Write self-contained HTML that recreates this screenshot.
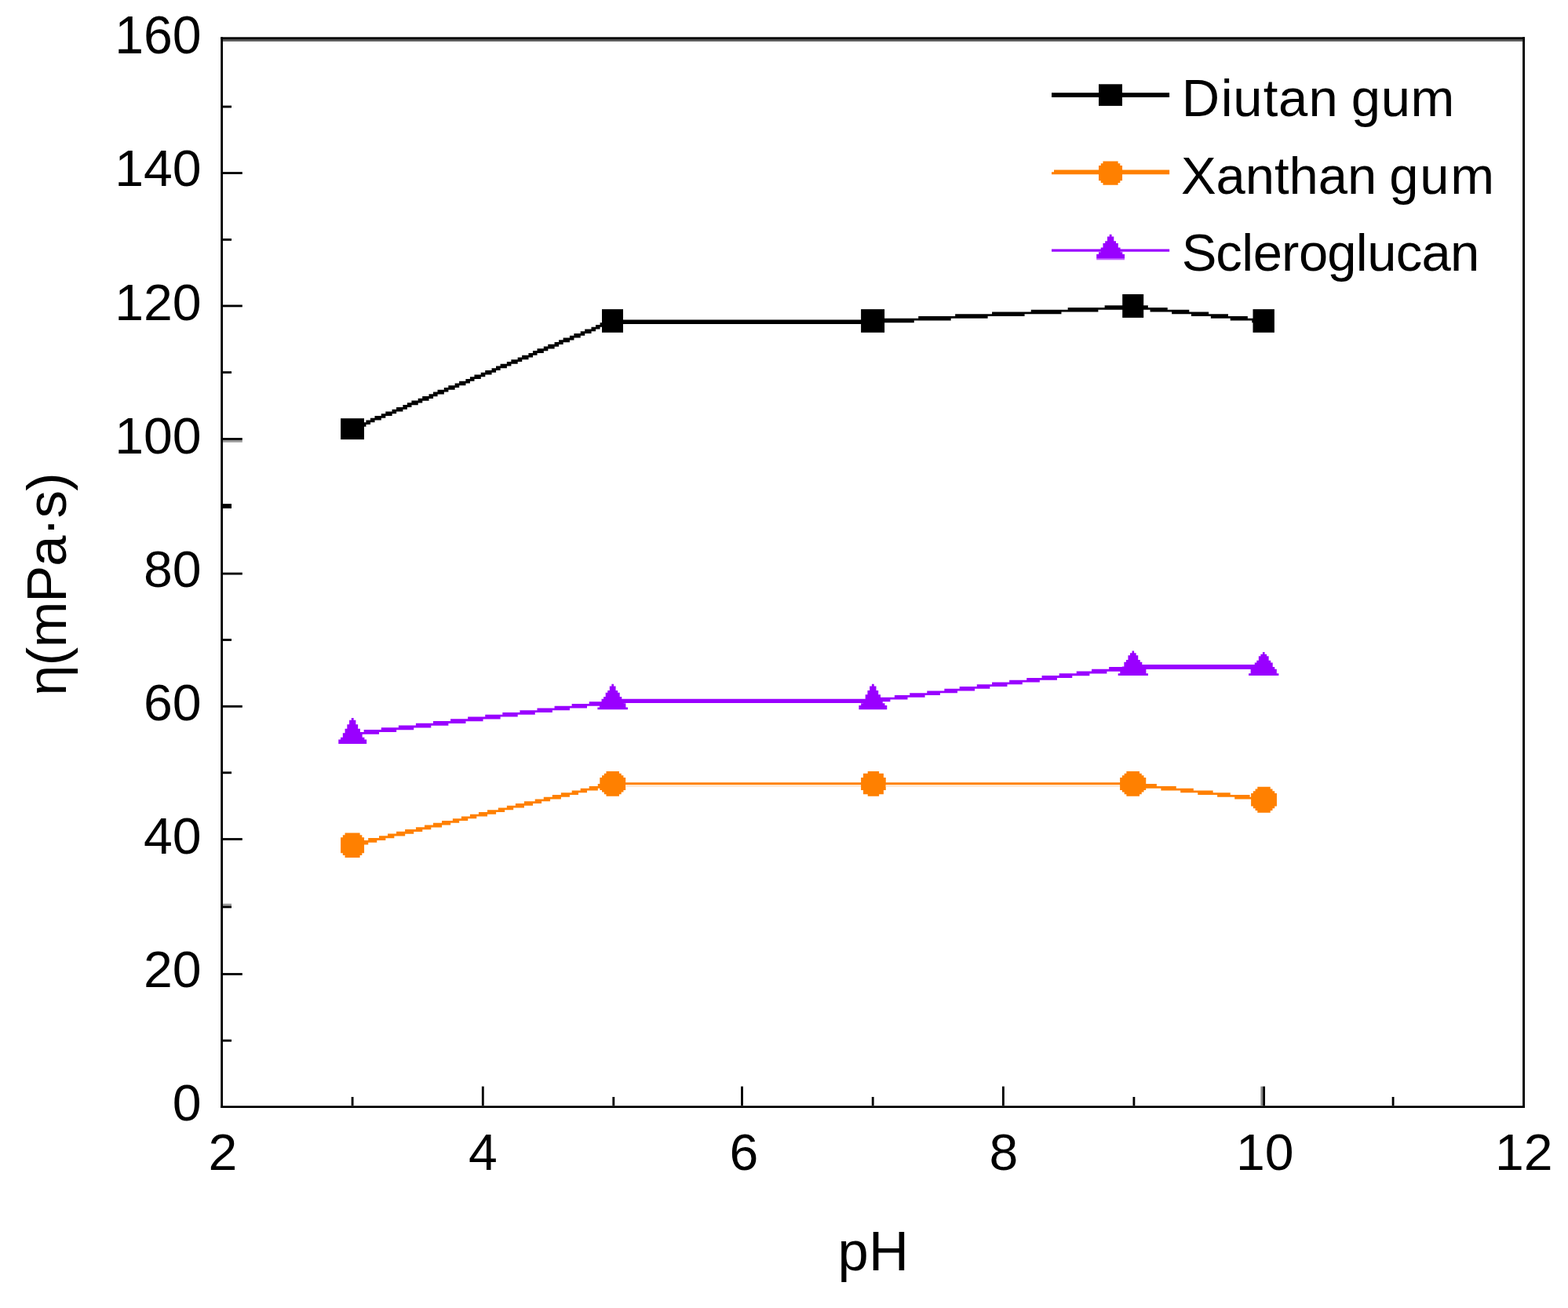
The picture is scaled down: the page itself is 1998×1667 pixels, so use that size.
<!DOCTYPE html>
<html lang="en"><head><meta charset="utf-8"><title>Viscosity vs pH</title>
<style>html,body{margin:0;padding:0;background:#fff;}body{width:1998px;height:1667px;overflow:hidden;}svg{display:block;}text{font-family:"Liberation Sans", sans-serif;fill:#000;}</style>
</head><body>
<svg width="1998" height="1667" viewBox="0 0 1998 1667">
<rect x="0" y="0" width="1998" height="1667" fill="#fff"/>
<g id="frame">
<rect x="281.2" y="47.3" width="2.8" height="1364.7" fill="#000"/>
<rect x="1940.1" y="47.3" width="2.9" height="1364.7" fill="#000"/>
<rect x="281.2" y="47.3" width="1661.8" height="2.7" fill="#000"/>
<rect x="284" y="50" width="1656.1" height="2.8" fill="#555"/>
<rect x="281.2" y="1409.3" width="1661.8" height="2.7" fill="#000"/>
</g>
<g id="yticks">
<rect x="284" y="134.58" width="11" height="2.84" fill="#000"/>
<rect x="284" y="219.13" width="24.8" height="2.84" fill="#000"/>
<rect x="284" y="303.98" width="11" height="2.84" fill="#000"/>
<rect x="284" y="388.48" width="24.8" height="2.84" fill="#000"/>
<rect x="284" y="473.18" width="11" height="2.84" fill="#000"/>
<rect x="284" y="558.08" width="24.8" height="2.84" fill="#000"/>
<rect x="284" y="560.92" width="24.8" height="2.8" fill="#999"/>
<rect x="284" y="642.1" width="11" height="5.8" fill="#000"/>
<rect x="284" y="729.68" width="24.8" height="2.84" fill="#000"/>
<rect x="284" y="814.08" width="11" height="2.84" fill="#000"/>
<rect x="284" y="898.88" width="24.8" height="2.84" fill="#000"/>
<rect x="284" y="983.38" width="11" height="2.84" fill="#000"/>
<rect x="284" y="1068.08" width="24.8" height="2.84" fill="#000"/>
<rect x="284" y="1151.68" width="11" height="2.8" fill="#999"/>
<rect x="284" y="1154.48" width="11" height="2.84" fill="#000"/>
<rect x="284" y="1240.08" width="24.8" height="2.84" fill="#000"/>
<rect x="284" y="1324.78" width="11" height="2.84" fill="#000"/>
</g>
<g id="xticks">
<rect x="447.68" y="1398" width="2.84" height="11.3" fill="#000"/>
<rect x="613.88" y="1384.6" width="2.84" height="24.7" fill="#000"/>
<rect x="780.38" y="1398" width="2.84" height="11.3" fill="#000"/>
<rect x="944.08" y="1384.6" width="2.84" height="24.7" fill="#000"/>
<rect x="1110.78" y="1398" width="2.84" height="11.3" fill="#000"/>
<rect x="1276.98" y="1384.6" width="2.84" height="24.7" fill="#000"/>
<rect x="1443.48" y="1398" width="2.84" height="11.3" fill="#000"/>
<rect x="1606.38" y="1384.6" width="2.8" height="24.7" fill="#888"/>
<rect x="1609.18" y="1384.6" width="2.84" height="24.7" fill="#000"/>
<rect x="1773.68" y="1398" width="2.84" height="11.3" fill="#000"/>
</g>
<g id="ylabels" text-anchor="end">
<text x="256.6" y="1427.9" font-size="64.6" textLength="36.8" lengthAdjust="spacingAndGlyphs">0</text>
<text x="256.6" y="1257.8" font-size="64.6" textLength="73.6" lengthAdjust="spacingAndGlyphs">20</text>
<text x="256.6" y="1087.8" font-size="64.6" textLength="73.6" lengthAdjust="spacingAndGlyphs">40</text>
<text x="256.6" y="917.7" font-size="64.6" textLength="73.6" lengthAdjust="spacingAndGlyphs">60</text>
<text x="256.6" y="747.6" font-size="64.6" textLength="73.6" lengthAdjust="spacingAndGlyphs">80</text>
<text x="256.6" y="577.5" font-size="64.6" textLength="110.4" lengthAdjust="spacingAndGlyphs">100</text>
<text x="256.6" y="407.5" font-size="64.6" textLength="110.4" lengthAdjust="spacingAndGlyphs">120</text>
<text x="256.6" y="237.4" font-size="64.6" textLength="110.4" lengthAdjust="spacingAndGlyphs">140</text>
<text x="256.6" y="68.2" font-size="67.6" textLength="110.4" lengthAdjust="spacingAndGlyphs">160</text>
</g>
<g id="xlabels" font-size="64.6" text-anchor="middle">
<text x="284.0" y="1491.3" textLength="36.8" lengthAdjust="spacingAndGlyphs">2</text>
<text x="615.5" y="1491.3" textLength="36.8" lengthAdjust="spacingAndGlyphs">4</text>
<text x="948.0" y="1491.3" textLength="36.8" lengthAdjust="spacingAndGlyphs">6</text>
<text x="1278.8" y="1491.3" textLength="36.8" lengthAdjust="spacingAndGlyphs">8</text>
<text x="1611.8" y="1491.3" textLength="73.6" lengthAdjust="spacingAndGlyphs">10</text>
<text x="1941.8" y="1491.3" textLength="73.6" lengthAdjust="spacingAndGlyphs">12</text>
</g>
<text id="xtitle" x="1067.56 1107.04" y="1619.3" font-size="70.5">pH</text>
<text id="ytitle" transform="translate(83.7,900) rotate(-90)" x="13.29 51.72 74.73 132.29 178.38 216.81 239.82 274.36" y="0" font-size="70.5">η(mPa·s)</text>
<g id="series-diutan">
<path fill="#000" d="M778.32 405.72H781.14V408.54H778.32ZM772.8 408.48H783.9V411.3H772.8ZM764.52 411.24H778.38V414.06H764.52ZM759 414H772.86V416.82H759ZM753.48 416.76H764.58V419.58H753.48ZM745.2 419.52H759.06V422.34H745.2ZM739.68 422.28H753.54V425.1H739.68ZM731.4 425.04H745.26V427.86H731.4ZM725.88 427.8H739.74V430.62H725.88ZM717.6 430.56H731.46V433.38H717.6ZM712.08 433.32H725.94V436.14H712.08ZM706.56 436.08H717.66V438.9H706.56ZM698.28 438.84H712.14V441.66H698.28ZM692.76 441.6H706.62V444.42H692.76ZM684.48 444.36H698.34V447.18H684.48ZM678.96 447.12H692.82V449.94H678.96ZM673.44 449.88H684.54V452.7H673.44ZM665.16 452.64H679.02V455.46H665.16ZM659.64 455.4H673.5V458.22H659.64ZM651.36 458.16H665.22V460.98H651.36ZM645.84 460.92H659.7V463.74H645.84ZM637.56 463.68H651.42V466.5H637.56ZM632.04 466.44H645.9V469.26H632.04ZM626.52 469.2H637.62V472.02H626.52ZM618.24 471.96H632.1V474.78H618.24ZM612.72 474.72H626.58V477.54H612.72ZM604.44 477.48H618.3V480.3H604.44ZM598.92 480.24H612.78V483.06H598.92ZM593.4 483H604.5V485.82H593.4ZM585.12 485.76H598.98V488.58H585.12ZM579.6 488.52H593.46V491.34H579.6ZM571.32 491.28H585.18V494.1H571.32ZM565.8 494.04H579.66V496.86H565.8ZM557.52 496.8H571.38V499.62H557.52ZM552 499.56H565.86V502.38H552ZM546.48 502.32H557.58V505.14H546.48ZM538.2 505.08H552.06V507.9H538.2ZM532.68 507.84H546.54V510.66H532.68ZM524.4 510.6H538.26V513.42H524.4ZM518.88 513.36H532.74V516.18H518.88ZM513.36 516.12H524.46V518.94H513.36ZM505.08 518.88H518.94V521.7H505.08ZM499.56 521.64H513.42V524.46H499.56ZM491.28 524.4H505.14V527.22H491.28ZM485.76 527.16H499.62V529.98H485.76ZM477.48 529.92H491.34V532.74H477.48ZM471.96 532.68H485.82V535.5H471.96ZM466.44 535.44H477.54V538.26H466.44ZM458.16 538.2H472.02V541.02H458.16ZM452.64 540.96H466.5V543.78H452.64ZM447.12 543.72H458.22V546.54H447.12ZM447.12 546.48H452.7V549.3H447.12ZM780 407.5H1112.06V413.06H780ZM1407.6 389.16H1446.3V391.98H1407.6ZM1360.68 391.92H1443.54V394.74H1360.68ZM1313.76 394.68H1399.38V397.5H1313.76ZM1264.08 397.44H1352.46V400.26H1264.08ZM1217.16 400.2H1305.54V403.02H1217.16ZM1170.24 402.96H1258.62V405.78H1170.24ZM1123.32 405.72H1211.7V408.54H1123.32ZM1109.52 408.48H1164.78V411.3H1109.52ZM1112.28 411.24H1115.1V414.06H1112.28ZM1440.72 389.16H1462.86V391.98H1440.72ZM1443.48 391.92H1487.7V394.74H1443.48ZM1465.56 394.68H1515.3V397.5H1465.56ZM1493.16 397.44H1540.14V400.26H1493.16ZM1518 400.2H1564.98V403.02H1518ZM1542.84 402.96H1589.82V405.78H1542.84ZM1567.68 405.72H1611.9V408.54H1567.68ZM1595.28 408.48H1611.9V411.3H1595.28Z"/>
<rect x="434.1" y="533.2" width="29.9" height="26.9" fill="#000"/>
<rect x="767" y="394.1" width="27" height="29.7" fill="#000"/>
<rect x="1097.1" y="394.1" width="30" height="29.7" fill="#000"/>
<rect x="1430.2" y="375" width="27" height="29.9" fill="#000"/>
<rect x="1596.5" y="394.1" width="27.4" height="29.7" fill="#000"/>
</g>
<g id="series-scleroglucan">
<path fill="#9900ff" d="M772.8 891.48H783.9V894.3H772.8ZM750.72 894.24H783.9V897.06H750.72ZM728.64 897H770.1V899.82H728.64ZM706.56 899.76H748.02V902.58H706.56ZM684.48 902.52H725.94V905.34H684.48ZM662.4 905.28H703.86V908.1H662.4ZM640.32 908.04H681.78V910.86H640.32ZM618.24 910.8H659.7V913.62H618.24ZM596.16 913.56H637.62V916.38H596.16ZM574.08 916.32H615.54V919.14H574.08ZM552 919.08H593.46V921.9H552ZM529.92 921.84H571.38V924.66H529.92ZM507.84 924.6H549.3V927.42H507.84ZM485.76 927.36H527.22V930.18H485.76ZM463.68 930.12H505.14V932.94H463.68ZM447.12 932.88H483.06V935.7H447.12ZM447.12 935.64H460.98V938.46H447.12ZM780 890.7H1112.06V896.06H780ZM1435.2 847.32H1446.3V850.14H1435.2ZM1413.12 850.08H1446.3V852.9H1413.12ZM1391.04 852.84H1429.74V855.66H1391.04ZM1371.72 855.6H1410.42V858.42H1371.72ZM1349.64 858.36H1388.34V861.18H1349.64ZM1327.56 861.12H1366.26V863.94H1327.56ZM1308.24 863.88H1346.94V866.7H1308.24ZM1286.16 866.64H1324.86V869.46H1286.16ZM1264.08 869.4H1302.78V872.22H1264.08ZM1244.76 872.16H1283.46V874.98H1244.76ZM1222.68 874.92H1261.38V877.74H1222.68ZM1203.36 877.68H1242.06V880.5H1203.36ZM1181.28 880.44H1219.98V883.26H1181.28ZM1159.2 883.2H1197.9V886.02H1159.2ZM1139.88 885.96H1178.58V888.78H1139.88ZM1117.8 888.72H1156.5V891.54H1117.8ZM1109.52 891.48H1134.42V894.3H1109.52ZM1112.28 894.24H1115.1V897.06H1112.28ZM1443 847H1610.06V852.96H1443ZM447.82 915H450.64V917.8H447.82ZM445.07 917.74H453.39V920.54H445.07ZM445.07 920.48H453.39V923.28H445.07ZM442.32 923.23H456.14V926.03H442.32ZM442.32 925.97H456.14V928.77H442.32ZM439.56 928.71H458.9V931.51H439.56ZM439.56 931.45H458.9V934.25H439.56ZM436.81 934.19H461.65V936.99H436.81ZM436.81 936.93H461.65V939.73H436.81ZM434.05 939.67H464.41V942.48H434.05ZM431.3 942.42H467.16V945.22H431.3ZM431.3 945.16H467.16V947.96H431.3ZM779.37 871.8H781.99V874.57H779.37ZM776.8 874.51H784.56V877.28H776.8ZM776.8 877.22H784.56V879.98H776.8ZM774.23 879.92H787.13V882.69H774.23ZM771.67 882.63H789.69V885.4H771.67ZM771.67 885.34H789.69V888.11H771.67ZM769.1 888.05H792.26V890.82H769.1ZM766.53 890.76H794.83V893.53H766.53ZM766.53 893.47H794.83V896.23H766.53ZM763.97 896.17H797.39V898.94H763.97ZM763.97 898.88H797.39V901.65H763.97ZM761.4 901.59H799.96V904.36H761.4ZM1110.92 871.8H1113.74V874.57H1110.92ZM1108.17 874.51H1116.49V877.28H1108.17ZM1108.17 877.22H1116.49V879.98H1108.17ZM1105.42 879.92H1119.24V882.69H1105.42ZM1105.42 882.63H1119.24V885.4H1105.42ZM1102.66 885.34H1122V888.11H1102.66ZM1102.66 888.05H1122V890.82H1102.66ZM1099.91 890.76H1124.75V893.53H1099.91ZM1099.91 893.47H1124.75V896.23H1099.91ZM1097.15 896.17H1127.51V898.94H1097.15ZM1094.4 898.88H1130.26V901.65H1094.4ZM1094.4 901.59H1130.26V904.36H1094.4ZM1442.53 829.5H1445.13V832.42H1442.53ZM1439.98 832.36H1447.68V835.29H1439.98ZM1437.43 835.23H1450.23V838.15H1437.43ZM1437.43 838.09H1450.23V841.01H1437.43ZM1434.89 840.95H1452.77V843.88H1434.89ZM1432.34 843.82H1455.32V846.74H1432.34ZM1432.34 846.68H1455.32V849.61H1432.34ZM1429.79 849.55H1457.87V852.47H1429.79ZM1427.25 852.41H1460.41V855.33H1427.25ZM1427.25 855.27H1460.41V858.2H1427.25ZM1424.7 858.14H1462.96V861.06H1424.7ZM1608.93 830.9H1611.53V833.7H1608.93ZM1606.38 833.64H1614.08V836.43H1606.38ZM1603.83 836.37H1616.63V839.17H1603.83ZM1603.83 839.11H1616.63V841.91H1603.83ZM1601.29 841.85H1619.17V844.64H1601.29ZM1598.74 844.58H1621.72V847.38H1598.74ZM1598.74 847.32H1621.72V850.11H1598.74ZM1596.19 850.05H1624.27V852.85H1596.19ZM1593.65 852.79H1626.81V855.59H1593.65ZM1593.65 855.53H1626.81V858.32H1593.65ZM1591.1 858.26H1629.36V861.06H1591.1Z"/>
</g>
<g id="series-xanthan">
<path fill="#ff8000" d="M775.56 996.36H783.9V999.18H775.56ZM761.76 999.12H783.9V1001.94H761.76ZM750.72 1001.88H772.86V1004.7H750.72ZM739.68 1004.64H761.82V1007.46H739.68ZM728.64 1007.4H748.02V1010.22H728.64ZM714.84 1010.16H736.98V1012.98H714.84ZM703.8 1012.92H725.94V1015.74H703.8ZM692.76 1015.68H714.9V1018.5H692.76ZM681.72 1018.44H701.1V1021.26H681.72ZM667.92 1021.2H690.06V1024.02H667.92ZM656.88 1023.96H679.02V1026.78H656.88ZM645.84 1026.72H667.98V1029.54H645.84ZM634.8 1029.48H654.18V1032.3H634.8ZM621 1032.24H643.14V1035.06H621ZM609.96 1035H632.1V1037.82H609.96ZM598.92 1037.76H621.06V1040.58H598.92ZM587.88 1040.52H607.26V1043.34H587.88ZM576.84 1043.28H596.22V1046.1H576.84ZM563.04 1046.04H585.18V1048.86H563.04ZM552 1048.8H574.14V1051.62H552ZM540.96 1051.56H563.1V1054.38H540.96ZM529.92 1054.32H549.3V1057.14H529.92ZM516.12 1057.08H538.26V1059.9H516.12ZM505.08 1059.84H527.22V1062.66H505.08ZM494.04 1062.6H516.18V1065.42H494.04ZM483 1065.36H502.38V1068.18H483ZM469.2 1068.12H491.34V1070.94H469.2ZM458.16 1070.88H480.3V1073.7H458.16ZM447.12 1073.64H469.26V1076.46H447.12ZM447.12 1076.4H455.46V1079.22H447.12ZM780 997.3H1444.06V1000.16H780ZM1440.72 996.36H1451.82V999.18H1440.72ZM1440.72 999.12H1473.9V1001.94H1440.72ZM1457.28 1001.88H1498.74V1004.7H1457.28ZM1479.36 1004.64H1520.82V1007.46H1479.36ZM1504.2 1007.4H1545.66V1010.22H1504.2ZM1526.28 1010.16H1567.74V1012.98H1526.28ZM1551.12 1012.92H1592.58V1015.74H1551.12ZM1573.2 1015.68H1611.9V1018.5H1573.2ZM1595.28 1018.44H1611.9V1021.26H1595.28ZM439.54 1061.4H458.62V1064.32H439.54ZM436.82 1064.26H461.34V1067.19H436.82ZM434.1 1067.13H464.06V1070.05H434.1ZM434.1 1069.99H464.06V1072.91H434.1ZM434.1 1072.85H464.06V1075.78H434.1ZM434.1 1075.72H464.06V1078.64H434.1ZM434.1 1078.58H464.06V1081.51H434.1ZM434.1 1081.45H464.06V1084.37H434.1ZM434.1 1084.31H464.06V1087.23H434.1ZM436.82 1087.17H461.34V1090.1H436.82ZM439.54 1090.04H458.62V1092.96H439.54ZM772.5 983H788.96V985.71H772.5ZM769.77 985.65H791.69V988.36H769.77ZM767.03 988.3H794.43V991.01H767.03ZM764.3 990.95H797.16V993.66H764.3ZM764.3 993.6H797.16V996.31H764.3ZM764.3 996.25H797.16V998.96H764.3ZM764.3 998.9H797.16V1001.61H764.3ZM764.3 1001.55H797.16V1004.26H764.3ZM764.3 1004.2H797.16V1006.91H764.3ZM767.03 1006.85H794.43V1009.56H767.03ZM769.77 1009.5H791.69V1012.21H769.77ZM772.5 1012.15H788.96V1014.86H772.5ZM1105.72 983H1120.14V985.71H1105.72ZM1099.97 985.65H1125.89V988.36H1099.97ZM1099.97 988.3H1125.89V991.01H1099.97ZM1097.1 990.95H1128.76V993.66H1097.1ZM1097.1 993.6H1128.76V996.31H1097.1ZM1097.1 996.25H1128.76V998.96H1097.1ZM1097.1 998.9H1128.76V1001.61H1097.1ZM1097.1 1001.55H1128.76V1004.26H1097.1ZM1097.1 1004.2H1128.76V1006.91H1097.1ZM1099.97 1006.85H1125.89V1009.56H1099.97ZM1099.97 1009.5H1125.89V1012.21H1099.97ZM1105.72 1012.15H1120.14V1014.86H1105.72ZM1435.38 983H1451.98V985.71H1435.38ZM1432.62 985.65H1454.74V988.36H1432.62ZM1429.86 988.3H1457.5V991.01H1429.86ZM1427.1 990.95H1460.26V993.66H1427.1ZM1427.1 993.6H1460.26V996.31H1427.1ZM1427.1 996.25H1460.26V998.96H1427.1ZM1427.1 998.9H1460.26V1001.61H1427.1ZM1427.1 1001.55H1460.26V1004.26H1427.1ZM1427.1 1004.2H1460.26V1006.91H1427.1ZM1429.86 1006.85H1457.5V1009.56H1429.86ZM1432.62 1009.5H1454.74V1012.21H1432.62ZM1435.38 1012.15H1451.98V1014.86H1435.38ZM1602.3 1002.7H1618.76V1005.52H1602.3ZM1599.57 1005.46H1621.49V1008.28H1599.57ZM1596.83 1008.22H1624.23V1011.03H1596.83ZM1594.1 1010.98H1626.96V1013.79H1594.1ZM1594.1 1013.73H1626.96V1016.55H1594.1ZM1594.1 1016.49H1626.96V1019.31H1594.1ZM1594.1 1019.25H1626.96V1022.07H1594.1ZM1594.1 1022.01H1626.96V1024.83H1594.1ZM1594.1 1024.77H1626.96V1027.59H1594.1ZM1596.83 1027.53H1624.23V1030.34H1596.83ZM1599.57 1030.28H1621.49V1033.1H1599.57ZM1602.3 1033.04H1618.76V1035.86H1602.3Z"/>
<rect x="797" y="1000.1" width="300" height="2.8" fill="#ffe8d2"/>
<rect x="1128.7" y="1000.1" width="298.3" height="2.8" fill="#ffe8d2"/>
</g>
<g id="legend" font-size="67">
<rect x="1340" y="118.2" width="150.1" height="5.8" fill="#000"/>
<rect x="1400" y="107.3" width="30" height="27.6" fill="#000"/>
<text x="1505.87 1555.84 1571.21 1609.69 1628.92 1667.4 1704.66 1721.72 1759.64 1797.56" y="148.3">Diutan gum</text>
<path fill="#ff8000" d="M1343 216.4H1490.16V219.36H1343ZM1340 219.3H1490.16V222.26H1340ZM1405.45 205.5H1424.61V208.31H1405.45ZM1402.73 208.25H1427.33V211.05H1402.73ZM1400 210.99H1430.06V213.8H1400ZM1400 213.74H1430.06V216.54H1400ZM1400 216.48H1430.06V219.29H1400ZM1400 219.23H1430.06V222.03H1400ZM1400 221.97H1430.06V224.78H1400ZM1400 224.72H1430.06V227.52H1400ZM1400 227.46H1430.06V230.27H1400ZM1402.73 230.21H1427.33V233.01H1402.73ZM1405.45 232.95H1424.61V235.76H1405.45Z"/>
<text x="1505.01 1549.61 1586.8 1623.99 1642.57 1679.76 1716.95 1754.21 1770.17 1809.19 1848.21" y="246.6">Xanthan gum</text>
<path fill="#9900ff" d="M1340 317.6H1490.16V320.66H1340ZM1413.72 298.7H1416.54V301.57H1413.72ZM1410.97 301.51H1419.29V304.38H1410.97ZM1410.97 304.32H1419.29V307.19H1410.97ZM1408.22 307.13H1422.04V310H1408.22ZM1405.46 309.94H1424.8V312.81H1405.46ZM1405.46 312.75H1424.8V315.61H1405.46ZM1402.71 315.55H1427.55V318.42H1402.71ZM1402.71 318.36H1427.55V321.23H1402.71ZM1399.95 321.17H1430.31V324.04H1399.95ZM1397.2 323.98H1433.06V326.85H1397.2ZM1397.2 326.79H1433.06V329.66H1397.2Z"/>
<rect x="1397.2" y="329.6" width="35.8" height="1.7" fill="#c566ff"/>
<text x="1505.68 1549.37 1582.13 1596.68 1633.12 1654.93 1691.37 1727.8 1742.36 1778.79 1811.55 1847.98" y="344.9">Scleroglucan</text>
</g>
</svg>
</body></html>
